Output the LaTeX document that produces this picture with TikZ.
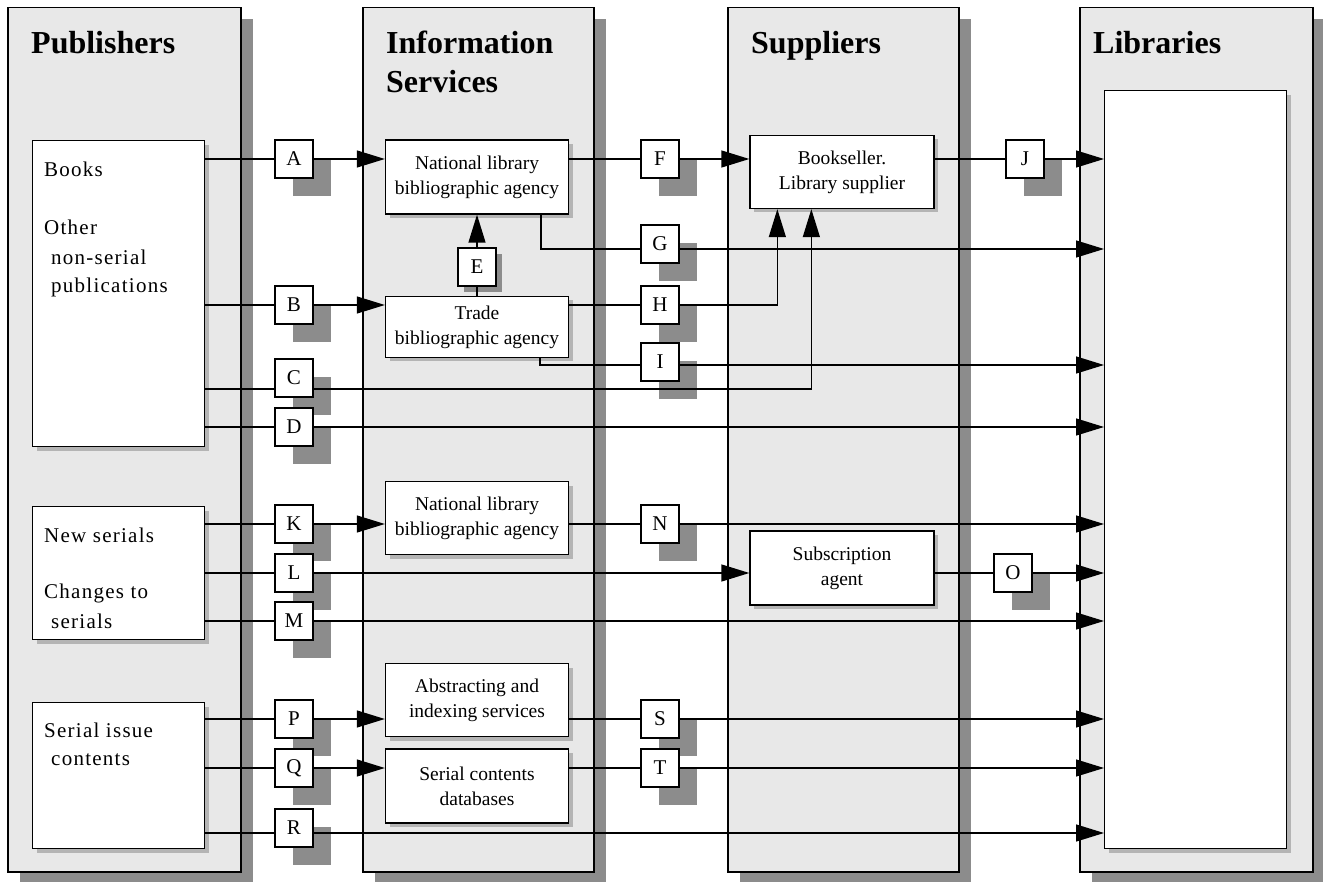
\documentclass[tikz,border=0pt]{standalone}
\usepackage{fontspec}
\setmainfont{Liberation Serif}
\newfontfamily\notefont[LetterSpace=6]{Liberation Serif}
\usetikzlibrary{positioning,arrows.meta,shadows,calc}
\definecolor{lanegray}{HTML}{E8E8E8}
\definecolor{shadegray}{HTML}{8C8C8C}
\definecolor{boxshade}{HTML}{B4B4B4}
\tikzstyle{lane}   = [draw, line width=1.5pt, fill=lanegray, anchor=north west, inner sep=0pt,
                      drop shadow={shadow xshift=12pt, shadow yshift=-11pt, fill=shadegray, opacity=1}]
\tikzstyle{agency} = [draw, line width=1.3pt, fill=white, align=center, inner sep=0pt, minimum width=183pt,
                      font=\fontsize{19.5}{25}\selectfont,
                      drop shadow={shadow xshift=4pt, shadow yshift=-4pt, fill=boxshade, opacity=1}]
\tikzstyle{flow}   = [line width=1.3pt]
\tikzstyle{arrow}  = [line width=1.3pt, -{Triangle[length=28pt, width=17pt]}]

\begin{document}
\begin{tikzpicture}[x=1pt, y=-1pt,
			tag/.style={draw, line width=1.3pt, fill=white, minimum width=38pt, minimum height=38pt, inner sep=0pt,
					font=\fontsize{21}{21}\selectfont},
			letter/.style={tag, drop shadow={shadow xshift=18pt, shadow yshift=-18pt, fill=shadegray, opacity=1}},
			smallletter/.style={tag, drop shadow={shadow xshift=6pt, shadow yshift=-6pt, fill=shadegray, opacity=1}},
			source/.style={draw, line width=1.3pt, fill=white, anchor=north west, inner sep=0pt, minimum width=172pt,
					drop shadow={shadow xshift=4pt, shadow yshift=-4pt, fill=boxshade, opacity=1}},
			title/.style={anchor=north west, align=left, inner sep=0pt, font=\fontsize{32}{39}\selectfont\bfseries},
			note/.style={anchor=base west, inner sep=0pt, font=\notefont\fontsize{21}{21}\selectfont}]

		\useasboundingbox (0,0) rectangle (1323,882);

		\node[lane, minimum width=233pt, minimum height=864pt] (publishers) at (7,7) {};
		\node[lane, minimum width=231pt, minimum height=864pt] (services) at (362,7) {};
		\node[lane, minimum width=231pt, minimum height=864pt] (suppliers) at (727,7) {};
		\node[lane, minimum width=233pt, minimum height=864pt] (libraries) at (1079,7) {};

		\node[title] (pubtitle) at (31,31) {Publishers};
		\node[title] (servtitle) at (386,31) {Information\\Services};
		\node[title] (suptitle) at (751,31) {Suppliers};
		\node[title] (libtitle) at (1093,31) {Libraries};

		\node[source, minimum height=306pt] (books) at (32,140) {};
		\node[source, minimum height=133pt] (serials) at (32,506) {};
		\node[source, minimum height=146pt] (issues) at (32,702) {};
		\node[source, minimum width=182pt, minimum height=758pt] (libbox) at (1104,90) {};

		\node[note] (booksnote) at (44,177) {Books};
		\node[note] (othernote) at (44,235) {Other};
		\node[note] (nonserialnote) at (51,265) {non-serial};
		\node[note] (pubsnote) at (51,293) {publications};
		\node[note] (newnote) at (44,542) {New serials};
		\node[note] (changenote) at (44,598) {Changes to};
		\node[note] (serialsnote) at (51,628) {serials};
		\node[note] (issuenote) at (44,737) {Serial issue};
		\node[note] (contentsnote) at (51,765) {contents};

		\node[agency, minimum height=74pt] (natlib) at (477,177) {National library\\bibliographic agency};
		\node[agency, minimum height=61pt] (trade) at (477,327) {Trade\\bibliographic agency};
		\node[agency, minimum height=73pt] (serlib) at (477,518) {National library\\bibliographic agency};
		\node[agency, minimum height=73pt] (abstracts) at (477,700) {Abstracting and\\indexing services};
		\node[agency, minimum height=74pt] (contents) at (477,786) {Serial contents\\databases};
		\node[agency, minimum width=184pt, minimum height=73pt] (bookseller) at (842,172) {Bookseller.\\Library supplier};
		\node[agency, minimum width=184pt, minimum height=74pt] (agent) at (842,568) {Subscription\\agent};

		\node[letter] (A) at (294,159) {A};
		\node[letter] (B) at (294,305) {B};
		\node[letter] (C) at (294,378) {C};
		\node[letter] (D) at (294,427) {D};
		\node[letter] (K) at (294,524) {K};
		\node[letter] (L) at (294,573) {L};
		\node[letter] (M) at (294,621) {M};
		\node[letter] (P) at (294,719) {P};
		\node[letter] (Q) at (294,768) {Q};
		\node[letter] (R) at (294,828) {R};
		\node[smallletter] (E) at (477,267) {E};
		\node[letter] (F) at (660,159) {F};
		\node[letter] (G) at (660,244) {G};
		\node[letter] (H) at (660,305) {H};
		\node[letter] (I) at (660,362) {I};
		\node[letter] (N) at (660,524) {N};
		\node[letter] (S) at (660,719) {S};
		\node[letter] (T) at (660,768) {T};
		\node[letter] (J) at (1025,159) {J};
		\node[letter] (O) at (1013,573) {O};

		\coordinate (cin) at ([yshift=-11pt]C.west);
		\coordinate (cout) at ([yshift=-11pt]C.east);
		\coordinate (gin) at ([yshift=-5pt]G.west);
		\coordinate (gout) at ([yshift=-5pt]G.east);
		\coordinate (iin) at ([yshift=-3pt]I.west);
		\coordinate (iout) at ([yshift=-3pt]I.east);
		\coordinate (rin) at ([yshift=-5pt]R.west);
		\coordinate (rout) at ([yshift=-5pt]R.east);

		\draw[flow] (books.east |- A.west) -- (A.west);
		\draw[arrow] (A.east) -- (natlib.west |- A.east);
		\draw[flow] (books.east |- B.west) -- (B.west);
		\draw[arrow] (B.east) -- (trade.west |- B.east);
		\draw[flow] (books.east |- cin) -- (cin);
		\draw[arrow] (cout) -| ($(bookseller.south west)+(62,0)$);
		\draw[flow] (books.east |- D.west) -- (D.west);
		\draw[arrow] (D.east) -- (libbox.west |- D.east);
		\draw[flow] (trade.north -| E.south) -- (E.south);
		\draw[arrow] (E.north) -- (natlib.south -| E.north);
		\draw[flow] (natlib.east |- F.west) -- (F.west);
		\draw[arrow] (F.east) -- (bookseller.west |- F.east);
		\draw[flow] ($(natlib.south west)+(156,0)$) |- (gin);
		\draw[arrow] (gout) -- (libbox.west |- gout);
		\draw[flow] (trade.east |- H.west) -- (H.west);
		\draw[arrow] (H.east) -| ($(bookseller.south west)+(28,0)$);
		\draw[flow] ($(trade.south west)+(155,0)$) |- (iin);
		\draw[arrow] (iout) -- (libbox.west |- iout);
		\draw[flow] (bookseller.east |- J.west) -- (J.west);
		\draw[arrow] (J.east) -- (libbox.west |- J.east);

		\draw[flow] (serials.east |- K.west) -- (K.west);
		\draw[arrow] (K.east) -- (serlib.west |- K.east);
		\draw[flow] (serials.east |- L.west) -- (L.west);
		\draw[arrow] (L.east) -- (agent.west |- L.east);
		\draw[flow] (serials.east |- M.west) -- (M.west);
		\draw[arrow] (M.east) -- (libbox.west |- M.east);
		\draw[flow] (serlib.east |- N.west) -- (N.west);
		\draw[arrow] (N.east) -- (libbox.west |- N.east);
		\draw[flow] (agent.east |- O.west) -- (O.west);
		\draw[arrow] (O.east) -- (libbox.west |- O.east);

		\draw[flow] (issues.east |- P.west) -- (P.west);
		\draw[arrow] (P.east) -- (abstracts.west |- P.east);
		\draw[flow] (issues.east |- Q.west) -- (Q.west);
		\draw[arrow] (Q.east) -- (contents.west |- Q.east);
		\draw[flow] (issues.east |- rin) -- (rin);
		\draw[arrow] (rout) -- (libbox.west |- rout);
		\draw[flow] (abstracts.east |- S.west) -- (S.west);
		\draw[arrow] (S.east) -- (libbox.west |- S.east);
		\draw[flow] (contents.east |- T.west) -- (T.west);
		\draw[arrow] (T.east) -- (libbox.west |- T.east);
	\end{tikzpicture}
\end{document}
